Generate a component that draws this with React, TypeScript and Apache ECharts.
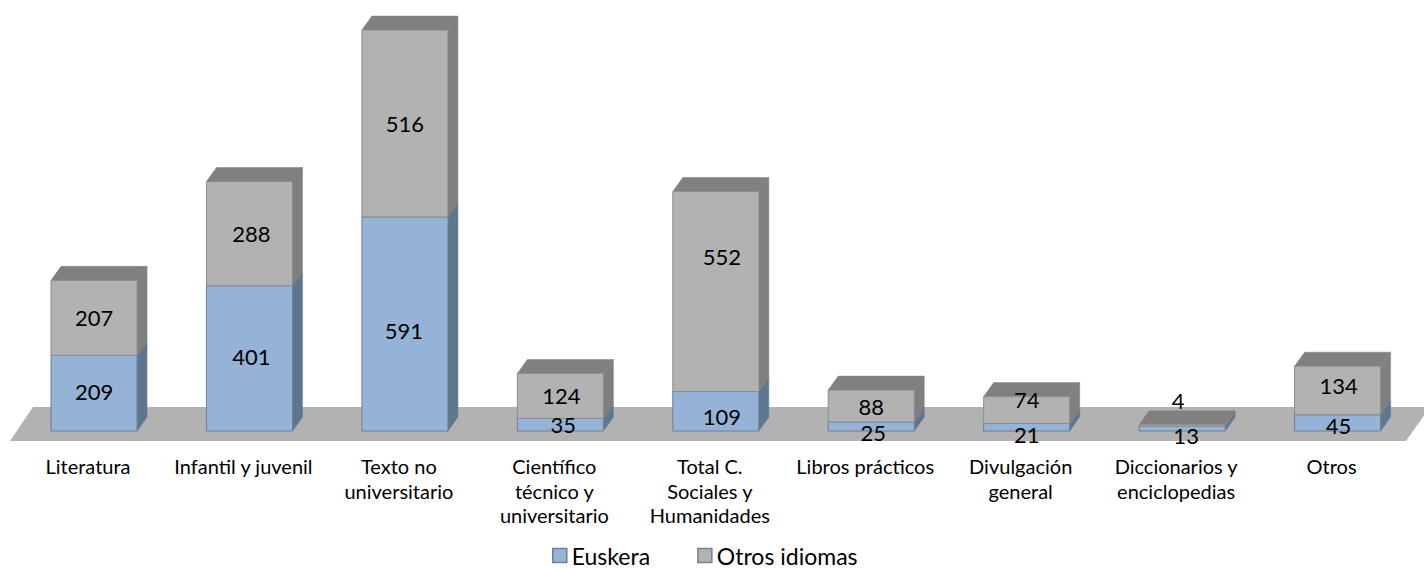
import React, { useEffect, useRef } from "react";
import * as echarts from "echarts";

const categories = [
  "Literatura",
  "Infantil y juvenil",
  "Texto no\nuniversitario",
  "Científico\ntécnico y\nuniversitario",
  "Total C.\nSociales y\nHumanidades",
  "Libros prácticos",
  "Divulgación\ngeneral",
  "Diccionarios y\nenciclopedias",
  "Otros",
];
const euskera = [209, 401, 591, 35, 109, 25, 21, 13, 45];
const otros = [207, 288, 516, 124, 552, 88, 74, 4, 134];

// hand-placed label nudges [dx, dy] in the reference
const euskeraNudge = [[0, -2], [2, -2], [-1, 7], [3, 0], [6, 5], [2, 6], [0, 7], [4, 7], [1, 3]];
const otrosNudge = [[0, 0], [2, 0], [0, 0], [1, 0], [6, -35], [0, 0], [0, -11], [-4, -25], [1, -5]];

const DEPTH_X = 10;
const DEPTH_Y = 14;
const FONT = "Lato, 'Open Sans', sans-serif";

function makeRender(front: string, side: string, edge: string, withTop: boolean, values: number[], base: number[], nudge: number[][]) {
  return (_params: any, api: any) => {
    const i = api.value(0);
    const size = api.size([1, 0]);
    const w = size[0] * 0.5535;
    const p0 = api.coord([i, base[i]]);
    const p1 = api.coord([i, base[i] + values[i]]);
    const x0 = p0[0] - w / 2;
    const x1 = p0[0] + w / 2;
    const y0 = p0[1];
    const y1 = p1[1];
    const children: any[] = [
      {
        type: "polygon",
        shape: { points: [[x1, y0], [x1 + DEPTH_X, y0 - DEPTH_Y], [x1 + DEPTH_X, y1 - DEPTH_Y], [x1, y1]] },
        style: { fill: side, stroke: side, lineWidth: 0.5 },
      },
    ];
    if (withTop) {
      children.push({
        type: "polygon",
        shape: { points: [[x0, y1], [x0 + DEPTH_X, y1 - DEPTH_Y], [x1 + DEPTH_X, y1 - DEPTH_Y], [x1, y1]] },
        style: { fill: "#808080", stroke: "#808080", lineWidth: 0.5 },
      });
    }
    children.push({
      type: "rect",
      shape: { x: x0, y: y1, width: w, height: y0 - y1 },
      style: { fill: front, stroke: edge, lineWidth: 1 },
    });
    children.push({
      type: "text",
      x: p0[0] + nudge[i][0],
      y: (y0 + y1) / 2 + nudge[i][1],
      z2: 100,
      style: {
        text: String(values[i]),
        fontFamily: FONT,
        fontSize: 22,
        fill: "#000000",
        align: "center",
        verticalAlign: "middle",
      },
    });
    return { type: "group", children };
  };
}

export default function App() {
  const ref = useRef<HTMLDivElement>(null);

  useEffect(() => {
    document.body.style.margin = "0";
    document.body.style.overflow = "hidden";
    const chart = echarts.init(ref.current!, undefined, { renderer: "svg" });
    const zeros = euskera.map(() => 0);
    chart.setOption({
      animation: false,
      backgroundColor: "#ffffff",
      textStyle: { fontFamily: FONT },
      grid: { left: 16.3, width: 1399, top: 32.6, height: 398.42, containLabel: false },
      xAxis: {
        type: "category",
        data: categories,
        axisLine: { show: false },
        axisTick: { show: false },
        axisLabel: {
          interval: 0,
          margin: 23,
          fontFamily: FONT,
          fontSize: 20,
          lineHeight: 24.5,
          color: "#000000",
          verticalAlign: "top",
          padding: [0, 12, 0, 0],
        },
      },
      yAxis: { type: "value", min: 0, max: 1100, show: false },
      legend: {
        left: 552,
        top: 544,
        padding: 0,
        itemWidth: 14,
        itemHeight: 14,
        itemGap: 47,
        icon: "rect",
        textStyle: { fontFamily: FONT, fontSize: 23, color: "#000000", padding: [0, 0, 11, 0] },
        data: [
          { name: "Euskera", itemStyle: { color: "#95B3D7", borderColor: "#6F7F8F", borderWidth: 1.5 } },
          { name: "Otros idiomas", itemStyle: { color: "#B2B2B2", borderColor: "#7F7F7F", borderWidth: 1.5 } },
        ],
      },
      graphic: {
        elements: [
          {
            type: "polygon",
            z: -10,
            silent: true,
            shape: { points: [[10, 441], [1406, 441], [1430, 407], [33, 407]] },
            style: { fill: "#B2B2B2" },
          },
        ],
      },
      series: [
        {
          type: "custom",
          name: "Euskera",
          clip: false,
          itemStyle: { color: "#95B3D7" },
          data: euskera.map((v, i) => [i, v]),
          encode: { x: 0, y: 1 },
          renderItem: makeRender("#95B3D7", "#5F7690", "#6F7F8F", false, euskera, zeros, euskeraNudge),
        },
        {
          type: "custom",
          name: "Otros idiomas",
          clip: false,
          itemStyle: { color: "#B2B2B2" },
          data: otros.map((v, i) => [i, v]),
          encode: { x: 0, y: 1 },
          renderItem: makeRender("#B2B2B2", "#7F7F7F", "#8C8C8C", true, otros, euskera, otrosNudge),
        },
      ],
    });
    return () => chart.dispose();
  }, []);

  return <div ref={ref} style={{ width: 1424, height: 569 }} />;
}
